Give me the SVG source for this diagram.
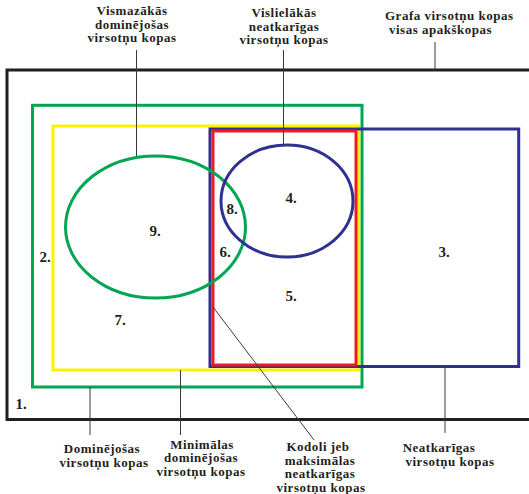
<svg xmlns="http://www.w3.org/2000/svg" width="529" height="494" viewBox="0 0 529 494">
<style>
.t{font-family:"Liberation Serif","Times New Roman",serif;font-weight:bold;font-size:13px;letter-spacing:0.5px;fill:#231f20;text-anchor:middle}
.n{font-family:"Liberation Serif","Times New Roman",serif;font-weight:bold;font-size:15px;fill:#231f20;text-anchor:middle}
.s{fill:none;stroke-width:3}
.lead{stroke:#3a3a3a;stroke-width:1;fill:none}
</style>
<rect width="529" height="494" fill="#ffffff"/>
<g id="all-subsets">
<rect class="s" x="7" y="70" width="526" height="349.5" stroke="#231f20"/>
<text class="n" x="21" y="409">1.</text>
</g>
<g id="dominating-sets">
<rect class="s" x="32.5" y="105.3" width="329.5" height="281.7" stroke="#00a651"/>
<text class="n" x="45" y="262">2.</text>
</g>
<g id="minimal-dominating-sets">
<rect class="s" x="53" y="126" width="305.7" height="244" stroke="#fff200"/>
<text class="n" x="120" y="325">7.</text>
</g>
<g id="independent-sets">
<rect class="s" x="210" y="129" width="308.7" height="237.5" stroke="#2e3192"/>
<text class="n" x="444" y="257">3.</text>
</g>
<g id="kernels">
<rect class="s" x="213" y="131" width="143" height="234" stroke="#ed1c24"/>
<text class="n" x="291" y="301">5.</text>
</g>
<g id="smallest-dominating-sets">
<ellipse class="s" cx="155.5" cy="227" rx="90" ry="71" stroke="#00a651"/>
<text class="n" x="155" y="236">9.</text>
<text class="n" x="225" y="257">6.</text>
</g>
<g id="largest-independent-sets">
<ellipse class="s" cx="287" cy="201" rx="66" ry="56" stroke="#2e3192"/>
<text class="n" x="291" y="203">4.</text>
<text class="n" x="232" y="214">8.</text>
</g>
<g id="connectors">
<line class="lead" x1="136.5" y1="50" x2="136.5" y2="156"/>
<line class="lead" x1="283.5" y1="50" x2="283.5" y2="145"/>
<line class="lead" x1="435" y1="42" x2="435" y2="70"/>
<line class="lead" x1="90" y1="387" x2="90" y2="435"/>
<line class="lead" x1="180.5" y1="370" x2="180.5" y2="435"/>
<line class="lead" x1="213" y1="307" x2="314" y2="440"/>
<line class="lead" x1="445" y1="367" x2="445" y2="433"/>
</g>
<g id="labels">
<text class="t" x="132" y="15">Vismazākās</text>
<text class="t" x="132" y="28.5">dominējošas</text>
<text class="t" x="132" y="42">virsotņu kopas</text>
<text class="t" x="284" y="17">Vislielākās</text>
<text class="t" x="284" y="30.5">neatkarīgas</text>
<text class="t" x="284" y="44">virsotņu kopas</text>
<text class="t" x="385" y="20" style="text-anchor:start">Grafa virsotņu kopas</text>
<text class="t" x="389" y="33.5" style="text-anchor:start">visas apakškopas</text>
<text class="t" x="102" y="453">Dominējošas</text>
<text class="t" x="104" y="466.5">virsotņu kopas</text>
<text class="t" x="202" y="448.5">Minimālas</text>
<text class="t" x="201" y="462">dominējošas</text>
<text class="t" x="201" y="475.5">virsotņu kopas</text>
<text class="t" x="318" y="451">Kodoli jeb</text>
<text class="t" x="320" y="464.5">maksimālas</text>
<text class="t" x="320" y="478">neatkarīgas</text>
<text class="t" x="321" y="491.5">virsotņu kopas</text>
<text class="t" x="439" y="452">Neatkarīgas</text>
<text class="t" x="450" y="465.5">virsotņu kopas</text>
</g>
</svg>
